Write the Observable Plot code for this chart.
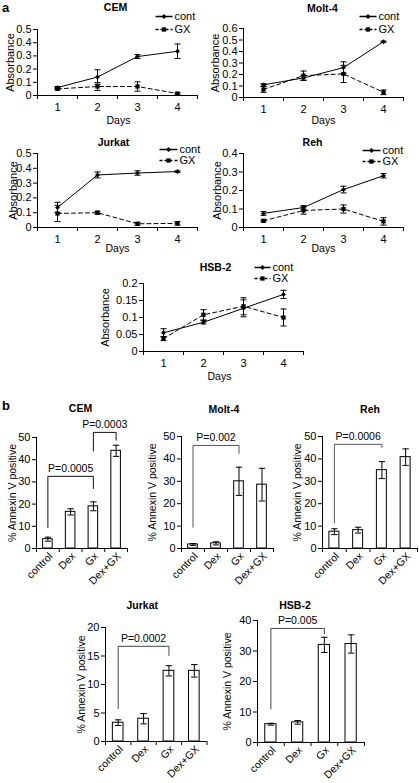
<!DOCTYPE html>
<html><head><meta charset="utf-8">
<script src="https://cdn.jsdelivr.net/npm/d3@7"></script>
<script src="https://cdn.jsdelivr.net/npm/@observablehq/plot@0.6"></script>
<style>
body{margin:0;background:#fff;}
#fig{position:relative;width:419px;height:783px;overflow:hidden;font-family:"Liberation Sans",Arial,sans-serif;background:#fff;}
.lab{position:absolute;font-weight:bold;font-size:13px;line-height:13px;}
</style></head><body><div id="fig"><div class="lab" style="left:2px;top:1px">a</div><div class="lab" style="left:2px;top:399px">b</div></div>
<script>
// ---------- panel a data (absorbance by day) ----------
const days = [1, 2, 3, 4];
const cemCont = [0.06, 0.14, 0.295, 0.335];
const cemContErr = [0.008, 0.055, 0.015, 0.055];
const cemGx = [0.05, 0.068, 0.068, 0.015];
const cemGxErr = [0.008, 0.03, 0.035, 0.005];
const moltCont = [0.11, 0.17, 0.26, 0.485];
const moltContErr = [0.01, 0.02, 0.05, 0.005];
const moltGx = [0.07, 0.19, 0.205, 0.045];
const moltGxErr = [0.025, 0.04, 0.075, 0.02];
const jurCont = [0.135, 0.355, 0.368, 0.378];
const jurContErr = [0.035, 0.02, 0.015, 0.005];
const jurGx = [0.095, 0.1, 0.025, 0.028];
const jurGxErr = [0.055, 0.01, 0.01, 0.012];
const rehCont = [0.076, 0.108, 0.205, 0.28];
const rehContErr = [0.01, 0.01, 0.018, 0.012];
const rehGx = [0.036, 0.092, 0.1, 0.033];
const rehGxErr = [0.005, 0.02, 0.022, 0.02];
const hsbCont = [0.055, 0.086, 0.127, 0.168];
const hsbContErr = [0.012, 0.005, 0.025, 0.012];
const hsbGx = [0.038, 0.108, 0.133, 0.1];
const hsbGxErr = [0.006, 0.015, 0.025, 0.025];
const ticks05 = [0, 0.1, 0.2, 0.3, 0.4, 0.5];
const ticks06 = [0, 0.1, 0.2, 0.3, 0.4, 0.5, 0.6];
const ticks04 = [0, 0.1, 0.2, 0.3, 0.4];
const ticks02 = [0, 0.05, 0.1, 0.15, 0.2];

// ---------- panel b data (% Annexin V positive) ----------
const cats = ["control", "Dex", "Gx", "Dex+GX"];
const cemAnx = [4.2, 16.5, 19, 44];
const cemAnxErr = [0.9, 1.4, 2, 2.5];
const moltAnx = [1.8, 2.3, 30, 28.5];
const moltAnxErr = [0.4, 0.7, 6.3, 7.3];
const rehAnx = [7.5, 8.2, 35, 40.8];
const rehAnxErr = [1.3, 1.3, 3.8, 3.7];
const jurAnx = [3.3, 4, 12.4, 12.4];
const jurAnxErr = [0.5, 0.9, 0.9, 1.1];
const hsbAnx = [6, 6.6, 32, 32.3];
const hsbAnxErr = [0.3, 0.6, 2.5, 3];
const ticks50 = [0, 10, 20, 30, 40, 50];
const ticks20 = [0, 5, 10, 15, 20];
const ticks40 = [0, 10, 20, 30, 40];
// brackets: from category a to b, top value, low ends
const cemP = [{a: 1, b: 3, top: 32.5, lo1: 9.5, lo2: 27, label: "P=0.0005"},
              {a: 3, b: 4, top: 52.3, lo1: 44, lo2: 48.8, label: "P=0.0003"}];
const moltP = [{a: 1, b: 3, top: 46, lo1: 9.5, lo2: 42.5, label: "P=0.002"}];
const rehP = [{a: 1, b: 3, top: 46.5, lo1: 11.5, lo2: 45, label: "P=0.0006"}];
const jurP = [{a: 1, b: 3, top: 16.7, lo1: 5.8, lo2: 15.1, label: "P=0.0002"}];
const hsbP = [{a: 1, b: 3, top: 37.4, lo1: 11, lo2: 35.7, label: "P=0.005"}];

// ---------- helpers ----------
const fig = document.getElementById("fig");
const FONT = '"Liberation Sans", Arial, sans-serif';
const M = {top: 45, right: 30, bottom: 50, left: 50};
const HALF = 0.21;
const capSym = {draw(ctx, size) { const r = Math.sqrt(size / Math.PI); ctx.moveTo(-r, 0); ctx.lineTo(r, 0); }};
const T = d => d;

function base(frame, yDomain) {
  return {
    width: frame.x1 - frame.x0 + M.left + M.right,
    height: frame.y1 - frame.y0 + M.top + M.bottom,
    marginLeft: M.left, marginRight: M.right, marginTop: M.top, marginBottom: M.bottom,
    x: {type: "linear", domain: [0.5, 4.5]},
    y: {type: "linear", domain: yDomain},
    style: {fontFamily: FONT, fontSize: "11px", overflow: "visible", background: "transparent", color: "black"}
  };
}
function place(svg, frame) {
  svg.style.position = "absolute";
  svg.style.left = (frame.x0 - M.left) + "px";
  svg.style.top = (frame.y0 - M.top) + "px";
  fig.appendChild(svg);
}
function errMarks(rows, x, y, e, capR) {
  return [
    Plot.ruleX(rows, {x, y1: d => d[y] - d[e], y2: d => d[y] + d[e], stroke: "black", strokeWidth: 1}),
    Plot.dot(rows, {x, y: d => d[y] + d[e], symbol: capSym, r: capR, stroke: "black", fill: "none", strokeWidth: 1}),
    Plot.dot(rows, {x, y: d => d[y] - d[e], symbol: capSym, r: capR, stroke: "black", fill: "none", strokeWidth: 1})
  ];
}

function lineChart(c) {
  const contRows = days.map((d, i) => ({day: d, value: c.cont[i], err: c.contErr[i]}));
  const gxRows = days.map((d, i) => ({day: d, value: c.gx[i], err: c.gxErr[i]}));
  const all = contRows.concat(gxRows);
  const L = c.leg;
  const svg = Plot.plot({
    ...base(c.frame, c.yDomain),
    marks: [
      Plot.ruleY([0], {stroke: "black"}),
      Plot.ruleX([0.5], {stroke: "black"}),
      Plot.axisY({ticks: c.yTicks, tickSize: 4, tickPadding: 2, tickFormat: d => String(d), label: null, fontSize: 11}),
      Plot.axisX({ticks: [0.5, 1.5, 2.5, 3.5, 4.5], tickSize: 4, tickFormat: () => "", label: null}),
      Plot.axisX({ticks: days, tickSize: 0, tickPadding: 8, tickFormat: d => String(d), label: null, fontSize: 11}),
      ...errMarks(all, "day", "value", "err", 3),
      Plot.line(contRows, {x: "day", y: "value", stroke: "black", strokeWidth: 1}),
      Plot.line(gxRows, {x: "day", y: "value", stroke: "black", strokeWidth: 1, strokeDasharray: "4,3"}),
      Plot.dot(contRows, {x: "day", y: "value", symbol: "diamond2", r: 2.2, fill: "black", stroke: "none"}),
      Plot.dot(gxRows, {x: "day", y: "value", symbol: "square", r: 2.4, fill: "black", stroke: "none"}),
      Plot.text([c.title], {text: T, frameAnchor: "top", dx: c.tdx, dy: c.tdy, lineAnchor: "middle", textAnchor: "middle", fontWeight: "bold", fontSize: 10.5}),
      Plot.text(["Days"], {text: T, frameAnchor: "bottom", dx: c.ddx, dy: c.ddy, lineAnchor: "middle", textAnchor: "middle", fontSize: 10.5}),
      Plot.text(["Absorbance"], {text: T, frameAnchor: "left", dx: c.ldx, rotate: -90, lineAnchor: "middle", textAnchor: "middle", fontSize: 11}),
      // legend
      Plot.dot(["cont"], {frameAnchor: "top-right", dx: L.lx, dy: L.y1, symbol: capSym, r: L.r, stroke: "black", fill: "none"}),
      Plot.dot(["cont"], {frameAnchor: "top-right", dx: L.lx, dy: L.y1, symbol: "diamond2", r: 2.2, fill: "black", stroke: "none"}),
      Plot.text(["cont"], {text: T, frameAnchor: "top-right", dx: L.tx, dy: L.y1, textAnchor: "start", lineAnchor: "middle", fontSize: 11}),
      Plot.dot(["GX"], {frameAnchor: "top-right", dx: L.lx, dy: L.y2, symbol: capSym, r: L.r, stroke: "black", fill: "none", strokeDasharray: "3,2"}),
      Plot.dot(["GX"], {frameAnchor: "top-right", dx: L.lx, dy: L.y2, symbol: "square", r: 2.4, fill: "black", stroke: "none"}),
      Plot.text(["GX"], {text: T, frameAnchor: "top-right", dx: L.tx, dy: L.y2, textAnchor: "start", lineAnchor: "middle", fontSize: 11})
    ]
  });
  place(svg, c.frame);
}

function barChart(c) {
  const rows = cats.map((k, i) => ({i: i + 1, v: c.vals[i], e: c.errs[i]}));
  const pts = c.brackets.flatMap((b, k) => [
    {k, x: b.a, y: b.lo1}, {k, x: b.a, y: b.top}, {k, x: b.b, y: b.top}, {k, x: b.b, y: b.lo2}]);
  const svg = Plot.plot({
    ...base(c.frame, c.yDomain),
    marks: [
      Plot.rect(rows, {x1: d => d.i - HALF, x2: d => d.i + HALF, y1: 0, y2: "v", fill: "white", stroke: "black", strokeWidth: 1}),
      ...errMarks(rows, "i", "v", "e", 3.2),
      Plot.ruleY([0], {stroke: "black"}),
      Plot.ruleX([0.5], {stroke: "black"}),
      Plot.axisY({ticks: c.yTicks, tickSize: 4, tickPadding: 2, tickFormat: d => String(d), label: null, fontSize: 11}),
      Plot.axisX({ticks: [0.5, 1.5, 2.5, 3.5, 4.5], tickSize: 4, tickFormat: () => "", label: null}),
      Plot.axisX({ticks: [1, 2, 3, 4], tickFormat: i => cats[i - 1], tickRotate: -45, tickSize: 0, tickPadding: 6, dx: 3, label: null, fontSize: 10.5}),
      Plot.line(pts, {x: "x", y: "y", z: "k", stroke: c.bcol, strokeWidth: 1}),
      Plot.text(c.brackets, {x: d => (d.a + d.b) / 2, y: "top", text: "label", dy: -8, lineAnchor: "middle", fontSize: 10.5}),
      Plot.text([c.title], {text: T, frameAnchor: "top", dx: c.tdx, dy: c.tdy, lineAnchor: "middle", textAnchor: "middle", fontWeight: "bold", fontSize: 10.5}),
      Plot.text(["% Annexin V positive"], {text: T, frameAnchor: "left", dx: c.ldx, rotate: -90, lineAnchor: "middle", textAnchor: "middle", fontSize: 10.5})
    ]
  });
  place(svg, c.frame);
}

// ---------- panel a ----------
lineChart({title: "CEM", cont: cemCont, contErr: cemContErr, gx: cemGx, gxErr: cemGxErr,
  yDomain: [0, 0.5], yTicks: ticks05, frame: {x0: 37, x1: 197, y0: 29, y1: 95},
  tdx: -2, tdy: -22, ddx: 1, ddy: 25, ldx: -27, leg: {lx: -33.5, tx: -23, r: 8.5, y1: -13, y2: 0}});
lineChart({title: "Molt-4", cont: moltCont, contErr: moltContErr, gx: moltGx, gxErr: moltGxErr,
  yDomain: [0, 0.6], yTicks: ticks06, frame: {x0: 243, x1: 403, y0: 28, y1: 97},
  tdx: -1, tdy: -20, ddx: 0, ddy: 23, ldx: -28, leg: {lx: -35.5, tx: -25, r: 8.5, y1: -12, y2: 1}});
lineChart({title: "Jurkat", cont: jurCont, contErr: jurContErr, gx: jurGx, gxErr: jurGxErr,
  yDomain: [0, 0.5], yTicks: ticks05, frame: {x0: 37, x1: 197, y0: 153, y1: 227},
  tdx: -4, tdy: -11, ddx: 0, ddy: 21, ldx: -24, leg: {lx: -29, tx: -18, r: 9, y1: -4, y2: 7}});
lineChart({title: "Reh", cont: rehCont, contErr: rehContErr, gx: rehGx, gxErr: rehGxErr,
  yDomain: [0, 0.4], yTicks: ticks04, frame: {x0: 243, x1: 403, y0: 153, y1: 227},
  tdx: -11, tdy: -11, ddx: 0, ddy: 21, ldx: -26, leg: {lx: -32, tx: -21, r: 9, y1: -3, y2: 8}});
lineChart({title: "HSB-2", cont: hsbCont, contErr: hsbContErr, gx: hsbGx, gxErr: hsbGxErr,
  yDomain: [0, 0.2], yTicks: ticks02, frame: {x0: 143, x1: 303, y0: 283, y1: 351},
  tdx: -8, tdy: -16, ddx: -4, ddy: 25, ldx: -38, leg: {lx: -41, tx: -31, r: 8, y1: -16, y2: -5}});

// ---------- panel b ----------
barChart({title: "CEM", vals: cemAnx, errs: cemAnxErr, yDomain: [0, 50], yTicks: ticks50,
  frame: {x0: 36, x1: 127, y0: 437, y1: 548}, brackets: cemP, bcol: "#111", tdx: -1.5, tdy: -29, ldx: -24});
barChart({title: "Molt-4", vals: moltAnx, errs: moltAnxErr, yDomain: [0, 50], yTicks: ticks50,
  frame: {x0: 180.5, x1: 272.5, y0: 436, y1: 548}, brackets: moltP, bcol: "#555", tdx: -3.5, tdy: -27, ldx: -29});
barChart({title: "Reh", vals: rehAnx, errs: rehAnxErr, yDomain: [0, 50], yTicks: ticks50,
  frame: {x0: 322, x1: 417, y0: 436, y1: 548}, brackets: rehP, bcol: "#555", tdx: 0, tdy: -27, ldx: -25});
barChart({title: "Jurkat", vals: jurAnx, errs: jurAnxErr, yDomain: [0, 20], yTicks: ticks20,
  frame: {x0: 104.5, x1: 206, y0: 627, y1: 741}, brackets: jurP, bcol: "#444", tdx: -14, tdy: -22, ldx: -24});
barChart({title: "HSB-2", vals: hsbAnx, errs: hsbAnxErr, yDomain: [0, 40], yTicks: ticks40,
  frame: {x0: 257, x1: 364, y0: 620, y1: 742}, brackets: hsbP, bcol: "#444", tdx: -16, tdy: -15, ldx: -30});
</script></body></html>
